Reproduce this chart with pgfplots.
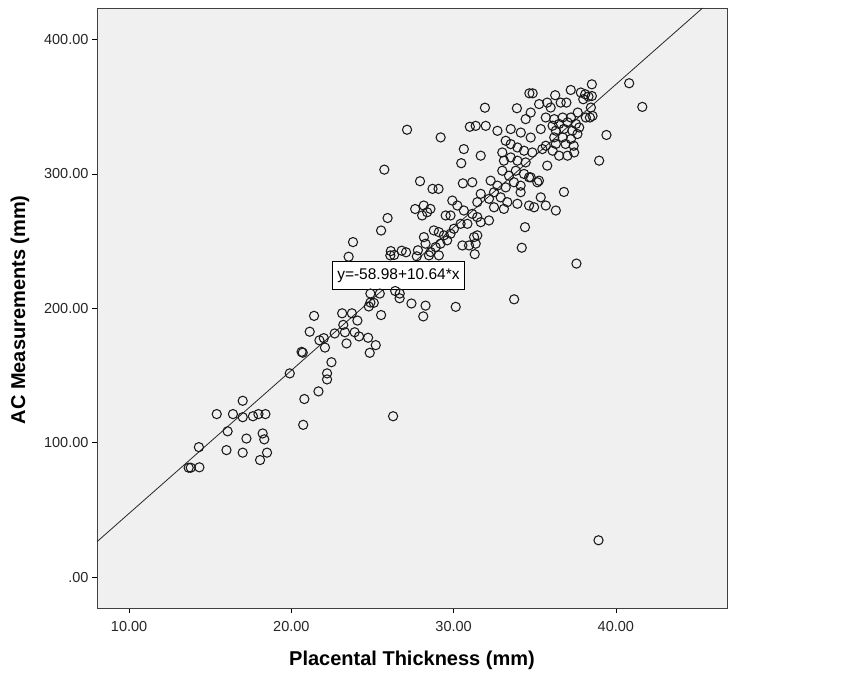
\documentclass[border=0pt]{standalone}
\usepackage{pgfplots}
\pgfplotsset{compat=1.18}
\usepackage{pgfplotstable}
\usepackage{fontspec}
\setmainfont{Liberation Sans}
\definecolor{bg}{RGB}{240,240,240}
\definecolor{mk}{RGB}{25,25,25}
\pgfplotstableread{
x y
13.67 81.4
13.80 81.4
14.33 81.7
14.30 96.7
15.40 121.3
16.07 108.5
16.00 94.5
16.40 121.3
17.00 131.2
17.00 119.0
17.00 92.6
17.23 103.1
17.63 119.7
17.97 121.3
18.07 87.1
18.23 106.9
18.40 121.3
18.33 102.5
18.50 92.6
19.90 151.6
20.63 167.6
20.70 167.0
20.73 113.3
20.80 132.5
21.13 182.6
21.40 194.4
21.67 138.2
21.73 176.2
22.00 177.8
22.07 170.8
22.20 151.6
22.20 147.1
22.47 159.9
22.67 181.3
23.13 196.3
23.20 187.7
23.30 182.2
23.40 173.9
23.53 238.4
23.73 196.3
23.80 249.3
23.90 182.2
24.07 190.9
24.17 179.1
24.73 178.1
24.77 201.4
24.87 211.0
24.87 204.3
24.83 166.9
25.20 172.6
25.53 195.0
25.53 257.9
25.73 303.2
25.93 267.2
26.13 242.6
26.27 119.7
26.33 239.7
26.40 212.9
26.67 207.5
26.80 242.9
27.07 241.7
27.13 332.9
27.40 203.6
27.63 273.9
27.73 238.7
27.80 243.2
27.93 294.6
28.13 194.0
28.27 202.0
28.70 288.9
29.07 288.9
29.20 327.2
30.13 201.1
30.47 308.0
30.57 293.0
30.63 318.5
31.00 335.1
31.30 240.3
31.93 349.3
33.73 206.7
33.90 348.9
34.20 245.1
34.40 260.4
34.67 360.0
34.87 360.0
35.27 352.0
36.80 286.6
37.57 233.3
38.93 27.4
41.63 349.9
25.45 211.0
25.08 204.1
26.68 211.0
26.10 239.4
29.92 280.2
30.23 276.5
30.63 272.8
29.51 269.1
29.81 269.1
28.16 276.5
28.37 271.5
28.06 269.1
28.57 274.0
31.46 267.9
31.67 264.1
32.18 265.4
31.15 270.3
30.85 262.9
30.43 262.9
30.02 259.2
29.81 255.5
28.78 258.0
29.09 256.7
29.40 254.3
29.60 250.6
29.19 248.1
28.89 245.6
28.58 241.9
28.17 253.0
28.27 248.1
28.48 239.4
29.09 239.4
30.54 246.8
30.95 246.8
31.36 248.1
31.26 253.0
31.46 254.3
34.44 340.8
34.75 345.7
31.36 335.8
31.98 335.8
32.70 332.1
33.52 333.4
34.14 330.8
34.75 327.1
35.37 333.4
33.21 324.7
33.52 322.2
33.93 319.7
34.34 317.3
34.85 316.0
35.47 318.5
31.67 313.6
33.00 316.0
33.10 309.9
33.52 312.3
33.93 309.9
34.44 308.6
33.00 302.4
33.41 298.7
33.83 302.4
34.34 300.0
34.65 297.5
35.26 295.0
31.15 293.8
32.28 295.0
32.70 291.3
33.21 290.0
33.72 293.8
34.13 291.3
34.75 297.5
35.16 293.8
31.67 285.2
32.18 281.5
32.49 286.4
32.90 282.6
33.31 279.0
34.13 286.4
35.37 282.6
34.65 276.5
33.93 277.8
32.49 275.2
31.46 279.0
33.10 274.0
34.96 275.2
35.68 276.5
36.30 272.8
38.52 366.7
40.82 367.5
37.22 362.5
36.26 358.6
37.84 360.6
38.11 359.3
38.31 357.6
37.99 355.6
38.52 358.0
35.77 353.1
35.98 349.4
36.60 353.1
36.95 353.1
38.46 349.4
38.40 342.0
35.68 342.0
36.20 340.8
36.72 342.0
37.23 342.0
37.65 345.7
38.15 342.0
38.56 343.2
36.10 335.9
36.50 337.2
37.02 338.4
37.54 337.2
37.74 334.6
36.30 332.2
36.80 333.5
37.32 332.2
37.63 329.7
36.20 327.2
36.72 327.2
37.23 326.0
36.30 322.3
36.90 322.3
37.40 321.0
36.10 317.3
36.50 313.6
37.02 313.6
37.43 316.0
35.68 321.0
35.77 306.2
39.42 329.0
38.97 309.9
}\pts
\begin{document}
\begin{tikzpicture}
\begin{axis}[
  scale only axis,
  width=630pt, height=600pt,
  xmin=8.02, xmax=46.85,
  ymin=-23, ymax=423.5,
  axis background/.style={fill=bg},
  axis line style={draw=black!75, line width=0.8pt},
  tick align=outside,
  major tick length=5pt,
  tick style={black, line width=0.7pt},
  xtick pos=bottom, ytick pos=left,
  xtick={10,20,30,40},
  xticklabels={10.00,20.00,30.00,40.00},
  ytick={0,100,200,300,400},
  yticklabels={.00,100.00,200.00,300.00,400.00},
  ticklabel style={font=\fontsize{14.5}{17}\selectfont, text=black!85},
  xticklabel style={yshift=-5pt},
  /pgf/number format/assume math mode=true,
  xlabel={Placental Thickness (mm)},
  ylabel={AC Measurements (mm)},
  every axis x label/.style={at={(axis description cs:0.5,0)}, anchor=center, yshift=-52pt, font=\fontsize{20}{23}\selectfont\bfseries},
  every axis y label/.style={at={(axis description cs:-0.1222,0.497)}, anchor=center, rotate=90, font=\fontsize{20}{23}\selectfont\bfseries},
  clip=true,
]
\addplot[only marks, mark=o, mark size=4.6pt, mark options={draw=mk, line width=1.05pt}] table[x=x,y=y] {\pts};
\addplot[black!85, line width=0.8pt] coordinates {(8.02,26.35) (45.35,423.54)};
\node[draw=black, fill=white, line width=0.8pt, inner xsep=5pt, inner ysep=7pt, font=\fontsize{15.5}{18}\selectfont] at (axis cs:26.6,224.6) {y=-58.98+10.64*x};
\node[anchor=west, inner sep=0pt, font=\fontsize{14}{16}\selectfont, text=black!85] at (rel axis cs:1.002,0.975) {R\textsuperscript{2} Linear = 0.787};
\end{axis}
\path[use as bounding box] (-97pt,-67pt) rectangle (750pt,608pt);
\end{tikzpicture}
\end{document}
